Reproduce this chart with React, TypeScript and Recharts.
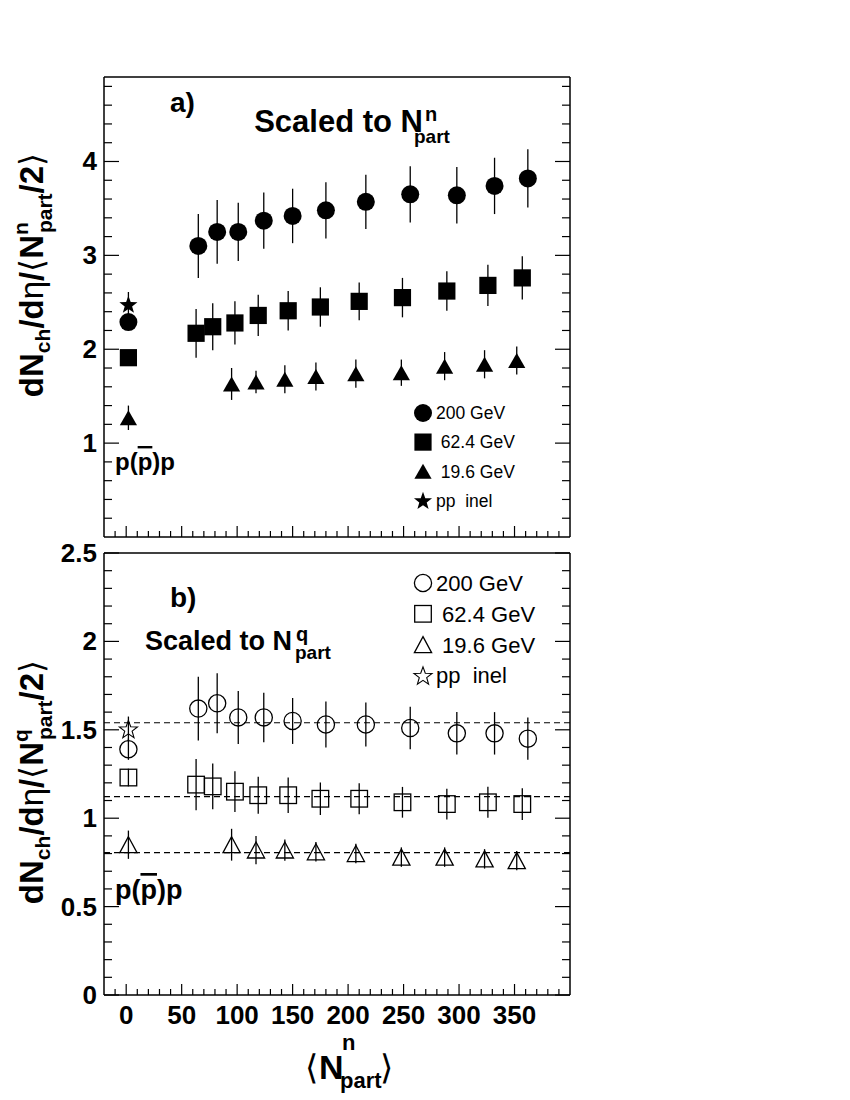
import React from "react";
import { ScatterChart, Scatter, XAxis, YAxis, ErrorBar, ReferenceLine } from "recharts";

const FONT = '"Liberation Sans", Arial, Helvetica, sans-serif';

// <N_part> of each centrality bin (pp point sits at Npart = 2)
const npart200 = [2, 65, 82, 101, 124, 150, 180, 216, 256, 298, 332, 362];
const npart62 = [2, 63, 78, 98, 119, 146, 175, 210, 249, 289, 326, 357];
const npart19 = [2, 95, 117, 143, 171, 207, 248, 287, 323, 352];
const npartPP = [2];

// panel a) scaled to Npart^n
const a200 = [2.29, 3.1, 3.25, 3.25, 3.37, 3.42, 3.48, 3.57, 3.65, 3.64, 3.74, 3.82];
const a200Err = [0.08, 0.34, 0.34, 0.31, 0.3, 0.29, 0.3, 0.29, 0.3, 0.3, 0.3, 0.31];
const a62 = [1.91, 2.17, 2.24, 2.28, 2.36, 2.41, 2.45, 2.51, 2.55, 2.62, 2.68, 2.76];
const a62Err = [0.08, 0.26, 0.25, 0.23, 0.22, 0.21, 0.21, 0.2, 0.21, 0.21, 0.22, 0.23];
const a19 = [1.27, 1.63, 1.65, 1.68, 1.71, 1.74, 1.75, 1.82, 1.84, 1.88];
const a19Err = [0.13, 0.17, 0.12, 0.15, 0.15, 0.15, 0.14, 0.15, 0.15, 0.15];
const aPP = [2.48];
const aPPErr = [0.13];

// panel b) scaled to Npart^q
const b200 = [1.39, 1.62, 1.65, 1.57, 1.57, 1.55, 1.53, 1.53, 1.51, 1.48, 1.48, 1.45];
const b200Err = [0.06, 0.18, 0.17, 0.15, 0.14, 0.13, 0.13, 0.125, 0.12, 0.12, 0.12, 0.12];
const b62 = [1.23, 1.19, 1.18, 1.15, 1.13, 1.13, 1.11, 1.11, 1.09, 1.08, 1.09, 1.08];
const b62Err = [0.05, 0.145, 0.13, 0.115, 0.105, 0.1, 0.092, 0.087, 0.087, 0.087, 0.088, 0.09];
const b19 = [0.85, 0.85, 0.82, 0.82, 0.81, 0.8, 0.78, 0.78, 0.77, 0.76];
const b19Err = [0.08, 0.09, 0.08, 0.06, 0.055, 0.055, 0.055, 0.055, 0.055, 0.055];
const bPP = [1.505];
const bPPErr = [0.07];
const bLevels = [1.54, 1.122, 0.805];

const seriesLabels = ["200 GeV", " 62.4 GeV", " 19.6 GeV", "pp  inel"];

const xTicks = [
  -10, 0, 10, 20, 30, 40, 50, 60, 70, 80, 90, 100, 110, 120, 130, 140, 150, 160, 170, 180, 190,
  200, 210, 220, 230, 240, 250, 260, 270, 280, 290, 300, 310, 320, 330, 340, 350, 360, 370, 380, 390,
];
const yTicksA = [
  0.2, 0.4, 0.6, 0.8, 1, 1.2, 1.4, 1.6, 1.8, 2, 2.2, 2.4, 2.6, 2.8, 3, 3.2, 3.4, 3.6, 3.8, 4, 4.2,
  4.4, 4.6, 4.8,
];
const yTicksB = [
  0, 0.1, 0.2, 0.3, 0.4, 0.5, 0.6, 0.7, 0.8, 0.9, 1, 1.1, 1.2, 1.3, 1.4, 1.5, 1.6, 1.7, 1.8, 1.9,
  2, 2.1, 2.2, 2.3, 2.4, 2.5,
];

const pts = (xs: number[], ys: number[], es: number[]) =>
  xs.map((x, i) => ({ x, y: ys[i], err: es[i] }));

type Kind = "circle" | "square" | "triangle" | "star";
const kinds: Kind[] = ["circle", "square", "triangle", "star"];

const Marker = ({ kind, cx, cy, open }: { kind: Kind; cx: number; cy: number; open?: boolean }) => {
  const fill = open ? "none" : "#000";
  const stroke = open ? "#000" : "none";
  const sw = 1.3;
  if (kind === "circle") return <circle cx={cx} cy={cy} r={open ? 8.6 : 9} fill={fill} stroke={stroke} strokeWidth={sw} />;
  if (kind === "square") {
    const h = open ? 8.3 : 8.6;
    return <rect x={cx - h} y={cy - h} width={2 * h} height={2 * h} fill={fill} stroke={stroke} strokeWidth={sw} />;
  }
  if (kind === "triangle") {
    const w = 8.6;
    const h = open ? 8 : 7.5;
    return (
      <polygon
        points={`${cx},${cy - h} ${cx + w},${cy + h} ${cx - w},${cy + h}`}
        fill={fill}
        stroke={stroke}
        strokeWidth={sw}
        strokeLinejoin="miter"
      />
    );
  }
  const p: string[] = [];
  for (let i = 0; i < 10; i++) {
    const r = i % 2 === 0 ? 9.5 : 3.9;
    const a = -Math.PI / 2 + (i * Math.PI) / 5;
    p.push(`${cx + r * Math.cos(a)},${cy + 1 + r * Math.sin(a)}`);
  }
  return <polygon points={p.join(" ")} fill={fill} stroke={stroke} strokeWidth={1.1} />;
};

const frameLine = { stroke: "#000", strokeWidth: 1.5 };
const tickFont = { fontFamily: FONT, fontWeight: 700, fontSize: 26, fill: "#000" };

const XTick = (props: any) => {
  const { x, y, payload, side, labels } = props;
  const v = payload.value;
  const major = Math.abs(v % 50) < 1e-6;
  const len = major ? 11 : 6;
  const dir = side === "bottom" ? -1 : 1;
  return (
    <g>
      <line x1={x} y1={y} x2={x} y2={y + dir * len} stroke="#000" strokeWidth={1.2} />
      {labels && major && v >= 0 ? (
        <text x={x} y={y + 29} textAnchor="middle" {...tickFont}>
          {v}
        </text>
      ) : null}
    </g>
  );
};

const YTick = (props: any) => {
  const { x, y, payload, side, step, labels } = props;
  const v = payload.value;
  const major = Math.abs(v / step - Math.round(v / step)) < 1e-6;
  const len = major ? 15 : 8;
  const dir = side === "left" ? 1 : -1;
  return (
    <g>
      <line x1={x} y1={y} x2={x + dir * len} y2={y} stroke="#000" strokeWidth={1.2} />
      {labels && major ? (
        <text x={x - 7} y={y + 9} textAnchor="end" {...tickFont}>
          {String(v)}
        </text>
      ) : null}
    </g>
  );
};

type Series = { data: { x: number; y: number; err: number }[]; kind: Kind };

const Panel = ({
  series,
  open,
  height,
  margin,
  yDomain,
  yTicks,
  yStep,
  xLabels,
  bottomHeight,
  levels,
}: {
  series: Series[];
  open: boolean;
  height: number;
  margin: { top: number; right: number; bottom: number; left: number };
  yDomain: [number, number];
  yTicks: number[];
  yStep: number;
  xLabels: boolean;
  bottomHeight: number;
  levels: number[];
}) => (
  <ScatterChart width={850} height={height} margin={margin}>
    <XAxis
      xAxisId="b"
      dataKey="x"
      type="number"
      domain={[-20, 400]}
      ticks={xTicks}
      interval={0}
      orientation="bottom"
      height={bottomHeight}
      tickSize={0}
      tickMargin={0}
      tickLine={false}
      axisLine={frameLine}
      allowDataOverflow
      tick={(p: any) => <XTick {...p} side="bottom" labels={xLabels} />}
    />
    <XAxis
      xAxisId="t"
      type="number"
      domain={[-20, 400]}
      ticks={xTicks}
      interval={0}
      orientation="top"
      height={1}
      tickSize={0}
      tickMargin={0}
      tickLine={false}
      axisLine={frameLine}
      allowDataOverflow
      tick={(p: any) => <XTick {...p} side="top" labels={false} />}
    />
    <YAxis
      yAxisId="l"
      dataKey="y"
      type="number"
      domain={yDomain}
      ticks={yTicks}
      interval={0}
      width={60}
      tickSize={0}
      tickMargin={0}
      tickLine={false}
      axisLine={frameLine}
      allowDataOverflow
      tick={(p: any) => <YTick {...p} side="left" step={yStep} labels />}
    />
    <YAxis
      yAxisId="r"
      orientation="right"
      type="number"
      domain={yDomain}
      ticks={yTicks}
      interval={0}
      width={1}
      tickSize={0}
      tickMargin={0}
      tickLine={false}
      axisLine={frameLine}
      allowDataOverflow
      tick={(p: any) => <YTick {...p} side="right" step={yStep} labels={false} />}
    />
    {levels.map((v) => (
      <ReferenceLine
        key={v}
        xAxisId="b"
        yAxisId="l"
        y={v}
        stroke="#000"
        strokeWidth={1.2}
        strokeDasharray="6 4"
      />
    ))}
    {series.map((s, i) => (
      <Scatter
        key={i}
        name={seriesLabels[i]}
        xAxisId="b"
        yAxisId="l"
        data={s.data}
        isAnimationActive={false}
        shape={(p: any) => <Marker kind={s.kind} cx={p.cx} cy={p.cy} open={open} />}
      >
        <ErrorBar dataKey="err" direction="y" width={0} stroke="#000" strokeWidth={1.3} isAnimationActive={false} />
      </Scatter>
    ))}
  </ScatterChart>
);

const seriesA: Series[] = [
  { data: pts(npart200, a200, a200Err), kind: "circle" },
  { data: pts(npart62, a62, a62Err), kind: "square" },
  { data: pts(npart19, a19, a19Err), kind: "triangle" },
  { data: pts(npartPP, aPP, aPPErr), kind: "star" },
];
const seriesB: Series[] = [
  { data: pts(npart200, b200, b200Err), kind: "circle" },
  { data: pts(npart62, b62, b62Err), kind: "square" },
  { data: pts(npart19, b19, b19Err), kind: "triangle" },
  { data: pts(npartPP, bPP, bPPErr), kind: "star" },
];

const LegendBox = ({ x, y, step, size, open }: { x: number; y: number; step: number; size: number; open: boolean }) => (
  <g>
    {seriesLabels.map((label, i) => (
      <g key={label}>
        <Marker kind={kinds[i]} cx={x} cy={y + i * step} open={open} />
        <text
          x={x + 13}
          y={y + i * step + size * 0.36}
          fontFamily={FONT}
          fontSize={size}
          style={{ whiteSpace: "pre" }}
        >
          {label}
        </text>
      </g>
    ))}
  </g>
);

const bold = { fontFamily: FONT, fontWeight: 700, fill: "#000" };

const YTitle = ({ cy, sup }: { cy: number; sup: string }) => (
  <text transform="rotate(-90)" x={-cy} y={43} textAnchor="middle" fontSize={33} {...bold}>
    dN
    <tspan fontSize={21} dy={7}>ch</tspan>
    <tspan dy={-7}>/d</tspan>
    <tspan fontWeight={400}>η</tspan>
    <tspan>/</tspan>
    <tspan fontWeight={400}>⟨</tspan>
    <tspan>N</tspan>
    <tspan fontSize={21} dy={-15}>{sup}</tspan>
    <tspan fontSize={21} dx={-11} dy={24}>part</tspan>
    <tspan dy={-9}>/2</tspan>
    <tspan fontWeight={400}>⟩</tspan>
  </text>
);

export default function App() {
  return (
    <div style={{ position: "absolute", left: 0, top: 0, width: 850, height: 1100, background: "#fff" }}>
      <div style={{ position: "absolute", left: 0, top: 0 }}>
        <Panel
          series={seriesA}
          open={false}
          height={545}
          margin={{ top: 76, right: 279, bottom: 7, left: 44 }}
          yDomain={[0, 4.9]}
          yTicks={yTicksA}
          yStep={1}
          xLabels={false}
          bottomHeight={1}
          levels={[]}
        />
      </div>
      <div style={{ position: "absolute", left: 0, top: 525 }}>
        <Panel
          series={seriesB}
          open
          height={575}
          margin={{ top: 27, right: 279, bottom: 45, left: 44 }}
          yDomain={[0, 2.5]}
          yTicks={yTicksB}
          yStep={0.5}
          xLabels
          bottomHeight={60}
          levels={bLevels}
        />
      </div>
      <svg
        width={850}
        height={1100}
        style={{ position: "absolute", left: 0, top: 0, pointerEvents: "none" }}
      >
        {/* panel a */}
        <text x={170} y={112} fontSize={28} {...bold}>a)</text>
        <text x={423} y={132} textAnchor="end" fontSize={31} {...bold}>Scaled to N</text>
        <text x={425} y={121} fontSize={20} {...bold}>n</text>
        <text x={414} y={143} fontSize={19} {...bold}>part</text>
        <text x={115} y={470} fontSize={24} {...bold}>
          p(<tspan style={{ textDecoration: "overline" }}>p</tspan>)p
        </text>
        <LegendBox x={423} y={413} step={29.1} size={17.5} open={false} />
        <YTitle cy={275} sup="n" />

        {/* panel b */}
        <text x={170} y={607} fontSize={28} {...bold}>b)</text>
        <text x={292} y={650} textAnchor="end" fontSize={27} {...bold}>Scaled to N</text>
        <text x={296} y={641} fontSize={20} {...bold}>q</text>
        <text x={295} y={659} fontSize={19} {...bold}>part</text>
        <text x={115} y={899} fontSize={27} {...bold}>
          p(<tspan style={{ textDecoration: "overline" }}>p</tspan>)p
        </text>
        <LegendBox x={423} y={583} step={30.8} size={22} open />
        <YTitle cy={782} sup="q" />

        {/* x title */}
        <text x={318} y={1079} textAnchor="end" fontSize={34} fontFamily={FONT} fill="#000">⟨</text>
        <text x={319} y={1079} fontSize={34} {...bold}>N</text>
        <text x={342} y={1050} fontSize={22} {...bold}>n</text>
        <text x={340} y={1088} fontSize={22} {...bold}>part</text>
        <text x={380} y={1079} fontSize={34} fontFamily={FONT} fill="#000">⟩</text>
      </svg>
    </div>
  );
}
